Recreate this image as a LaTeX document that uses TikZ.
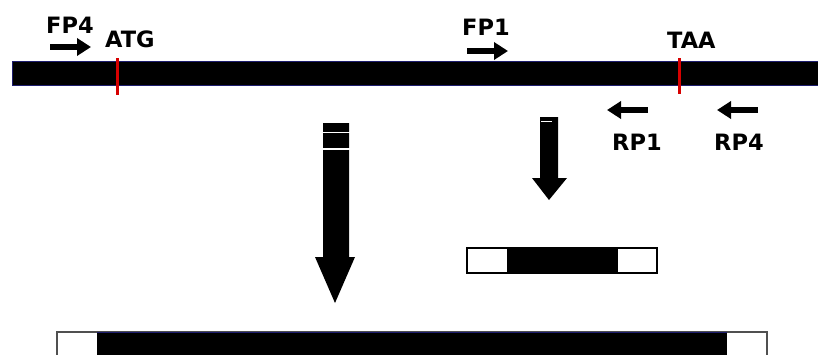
\documentclass[tikz,border=0pt]{standalone}
\usepackage{fontspec}
\setmainfont{DejaVu Sans}
\usetikzlibrary{arrows.meta}
\definecolor{edgenavy}{RGB}{30,30,110}
\definecolor{sitered}{RGB}{215,0,0}
\definecolor{boxgray}{RGB}{80,80,80}
\begin{document}
\begin{tikzpicture}[x=1pt,y=-1pt,
  lbl/.style={inner sep=0pt, anchor=base west, font=\fontsize{22.5}{22.5}\selectfont\bfseries},
  primer/.style={line width=6.5pt, -{Triangle[length=14pt,width=17pt]}},
  site/.style={sitered, line width=3pt},
  strand/.style={fill=black, draw=edgenavy, line width=1pt},
  flank/.style={fill=white, draw=boxgray, line width=1.5pt},
  gap/.style={white, line width=1.6pt}]
\clip (0,0) rectangle (818,354);
\fill[white] (0,0) rectangle (818,354);

% genomic strand with start and stop codons
\draw[strand] (12,61) rectangle (840,85);
\draw[site] (117,58) -- (117,95);
\draw[site] (679,58) -- (679,94);

% primer labels
\node[lbl] (fp4) at (46,33) {FP4};
\node[lbl] (atg) at (105,47) {ATG};
\node[lbl] (fp1) at (462,35) {FP1};
\node[lbl] (taa) at (667,48) {TAA};
\node[lbl] (rp1) at (612,150) {RP1};
\node[lbl] (rp4) at (714,150) {RP4};

% primer directions
\coordinate (fp4s) at (50,47);  \coordinate (fp4e) at (91,47);
\coordinate (fp1s) at (467,51); \coordinate (fp1e) at (508,51);
\coordinate (rp1s) at (648,110); \coordinate (rp1e) at (607,110);
\coordinate (rp4s) at (758,110); \coordinate (rp4e) at (717,110);
\draw[primer] (fp4s) -- (fp4e);
\draw[primer] (fp1s) -- (fp1e);
\draw[primer] (rp1s) -- (rp1e);
\draw[primer] (rp4s) -- (rp4e);

% long product arrow (FP4/RP4)
\fill[black] (323,123) -- (349,123) -- (349,257) -- (355,257) -- (335,303)
  -- (315,257) -- (323,257) -- cycle;
\draw[gap] (322,132.5) -- (350,132.5);
\draw[gap] (322,149) -- (350,149);

% short product arrow (FP1/RP1)
\fill[black] (540,117) -- (558,117) -- (558,178) -- (567,178) -- (549,200)
  -- (532,178) -- (540,178) -- cycle;
\draw[white, line width=1pt] (541,121.5) -- (552,121.5);

% short amplicon
\draw[flank] (467,248) rectangle (657,273);
\fill[black] (507,248) rectangle (618,273);
\draw[black, line width=1.5pt] (467,248) rectangle (657,273);

% full-length amplicon
\draw[flank] (57,332) rectangle (767,370);
\fill[black] (97,332) rectangle (727,370);
\draw[edgenavy, line width=1pt] (97,332) -- (727,332);
\end{tikzpicture}
\end{document}
